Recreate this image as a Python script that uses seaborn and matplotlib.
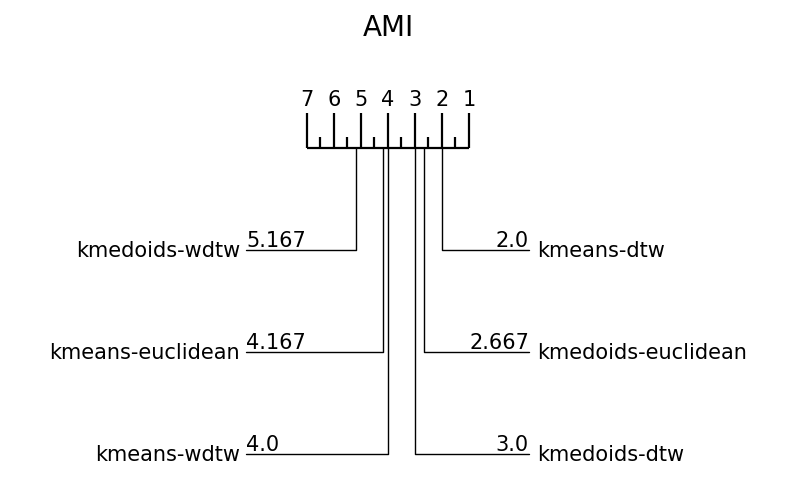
import pandas as pd
import matplotlib.pyplot as plt
import seaborn as sns

title = "AMI"
methods_left = ["kmedoids-wdtw", "kmeans-euclidean", "kmeans-wdtw"]
ranks_left = [5.167, 4.167, 4.0]
methods_right = ["kmeans-dtw", "kmedoids-euclidean", "kmedoids-dtw"]
ranks_right = [2.0, 2.667, 3.0]
n_methods = 7

sns.set_style("white")
plt.rcParams["font.family"] = ["DejaVu Sans"]
plt.rcParams["text.color"] = "black"

fig = plt.figure(figsize=(8, 4.8), dpi=100)
ax = fig.add_axes([0, 0, 1, 1])

axis_y = 148
row_y = [250, 352, 454]
left_end = 9.26
right_end = -1.22

# rank axis
ax.hlines(axis_y, 1, n_methods, color="black", lw=1.6)
ticks = [i / 2 for i in range(2, 2 * n_methods + 1)]
for t in ticks:
    top = 113 if t == int(t) else 137
    ax.vlines(t, top, axis_y, color="black", lw=1.6)
for r in range(1, n_methods + 1):
    ax.text(r, 110, str(r), ha="center", va="bottom", fontsize=15)

# connectors
rows = []
for i, (m, r) in enumerate(zip(methods_left, ranks_left)):
    for k, (x, y) in enumerate([(r, axis_y), (r, row_y[i]), (left_end, row_y[i])]):
        rows.append({"method": m, "x": x, "y": y, "k": k})
for i, (m, r) in enumerate(zip(methods_right, ranks_right)):
    for k, (x, y) in enumerate([(r, axis_y), (r, row_y[i]), (right_end, row_y[i])]):
        rows.append({"method": m, "x": x, "y": y, "k": k})
df = pd.DataFrame(rows)
sns.lineplot(data=df, x="x", y="y", units="method", estimator=None, sort=False,
             color="black", lw=1, ax=ax)
ax.set_xlim(18.37, -11.26)
ax.set_ylim(480, 0)
ax.axis("off")

for i, (m, r) in enumerate(zip(methods_left, ranks_left)):
    ax.text(left_end, row_y[i] + 1, str(r), ha="left", va="bottom", fontsize=15)
    ax.text(left_end + 0.22, row_y[i] + 1, m, ha="right", va="center", fontsize=15)
for i, (m, r) in enumerate(zip(methods_right, ranks_right)):
    ax.text(right_end, row_y[i] + 1, str(r), ha="right", va="bottom", fontsize=15)
    ax.text(right_end - 0.3, row_y[i] + 1, m, ha="left", va="center", fontsize=15)

ax.text(4, 28, title, ha="center", va="center", fontsize=20)

fig.savefig("out.png", dpi=100)
